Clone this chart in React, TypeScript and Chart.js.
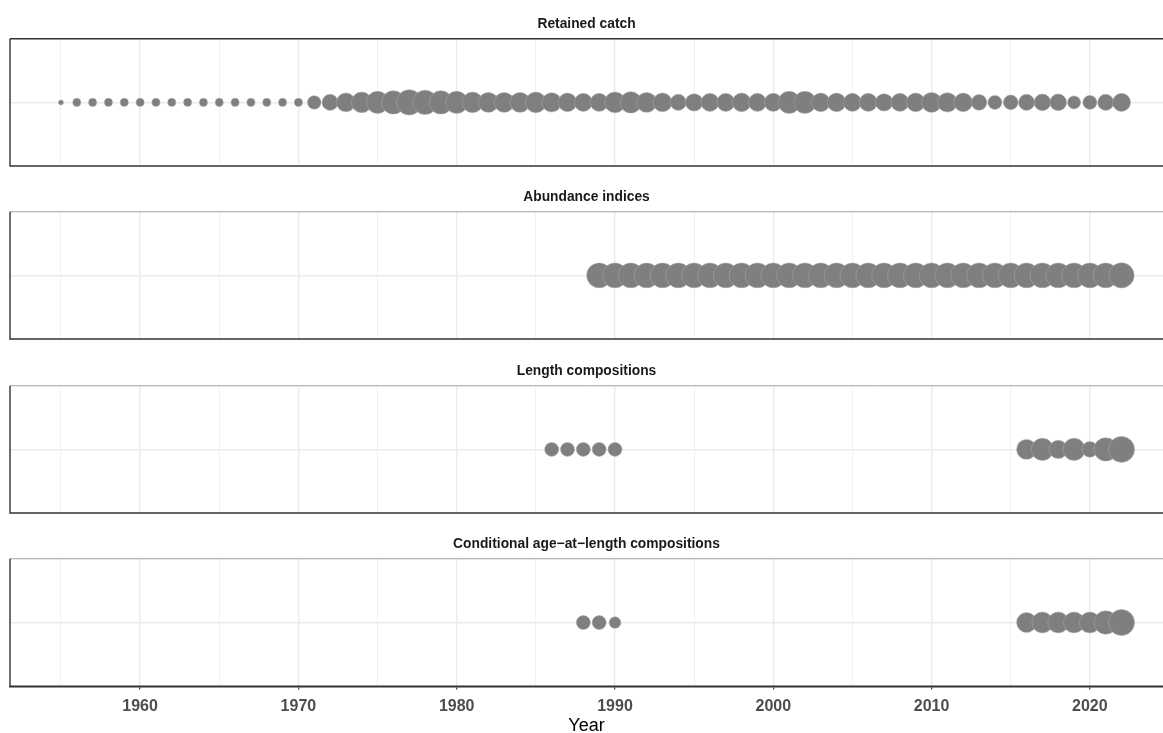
import React, { useEffect, useRef } from "react";
import { Chart, registerables } from "chart.js";

Chart.register(...registerables);

// ---------- data ----------
const panelTitles = [
  "Retained catch",
  "Abundance indices",
  "Length compositions",
  "Conditional age\u2212at\u2212length compositions",
];

const catchYears = [
  1955, 1956, 1957, 1958, 1959, 1960, 1961, 1962, 1963, 1964, 1965, 1966, 1967, 1968, 1969, 1970,
  1971, 1972, 1973, 1974, 1975, 1976, 1977, 1978, 1979, 1980, 1981, 1982, 1983, 1984, 1985, 1986,
  1987, 1988, 1989, 1990, 1991, 1992, 1993, 1994, 1995, 1996, 1997, 1998, 1999, 2000, 2001, 2002,
  2003, 2004, 2005, 2006, 2007, 2008, 2009, 2010, 2011, 2012, 2013, 2014, 2015, 2016, 2017, 2018,
  2019, 2020, 2021, 2022,
];
const catchValues = [
  0.037, 0.095, 0.095, 0.095, 0.095, 0.095, 0.095, 0.095, 0.095, 0.095, 0.095, 0.095, 0.095, 0.095, 0.095, 0.095,
  0.27, 0.38, 0.53, 0.63, 0.72, 0.81, 0.95, 0.88, 0.81, 0.72, 0.63, 0.59, 0.59, 0.59, 0.63, 0.56,
  0.51, 0.48, 0.48, 0.65, 0.68, 0.59, 0.53, 0.38, 0.45, 0.48, 0.48, 0.51, 0.48, 0.48, 0.72, 0.72,
  0.51, 0.51, 0.48, 0.48, 0.45, 0.48, 0.51, 0.59, 0.56, 0.51, 0.36, 0.29, 0.32, 0.38, 0.41, 0.41,
  0.25, 0.29, 0.38, 0.48,
];

const abundanceYears = [
  1989, 1990, 1991, 1992, 1993, 1994, 1995, 1996, 1997, 1998, 1999, 2000, 2001, 2002, 2003, 2004,
  2005, 2006, 2007, 2008, 2009, 2010, 2011, 2012, 2013, 2014, 2015, 2016, 2017, 2018, 2019, 2020,
  2021, 2022,
];
const abundanceValues = [
  0.92, 0.92, 0.92, 0.92, 0.92, 0.92, 0.92, 0.92, 0.92, 0.92, 0.92, 0.92, 0.92, 0.92, 0.92, 0.92,
  0.92, 0.92, 0.92, 0.92, 0.92, 0.92, 0.92, 0.92, 0.92, 0.92, 0.92, 0.92, 0.92, 0.92, 0.92, 0.92,
  0.92, 0.94,
];

const lengthYears = [1986, 1987, 1988, 1989, 1990, 2016, 2017, 2018, 2019, 2020, 2021, 2022];
const lengthValues = [0.29, 0.29, 0.29, 0.29, 0.29, 0.59, 0.72, 0.5, 0.72, 0.36, 0.81, 1.0];

const ageYears = [1988, 1989, 1990, 2016, 2017, 2018, 2019, 2020, 2021, 2022];
const ageValues = [0.29, 0.29, 0.2, 0.59, 0.65, 0.65, 0.65, 0.65, 0.81, 1.0];

const gridYears = [1955, 1960, 1965, 1970, 1975, 1980, 1985, 1990, 1995, 2000, 2005, 2010, 2015, 2020];

const xAxisTitle = "Year";

// ---------- layout / style ----------
const X_MIN = 1951.78;
const X_MAX = 2024.62;
const R_MAX = 13;
const W = 1163;
const H = 733;
const PANEL_STEP = 173.33;
const FONT = "'Liberation Sans', Arial, Helvetica, sans-serif";

const panels = [
  { title: panelTitles[0], years: catchYears, values: catchValues },
  { title: panelTitles[1], years: abundanceYears, values: abundanceValues },
  { title: panelTitles[2], years: lengthYears, values: lengthValues },
  { title: panelTitles[3], years: ageYears, values: ageValues },
];

function Panel({ idx, title, years, values, last }: any) {
  const ref = useRef<HTMLCanvasElement | null>(null);
  const top = Math.round(idx * PANEL_STEP);
  const height = last ? H - top + 2 : 168;

  useEffect(() => {
    if (!ref.current) return;
    const borderPlugin = {
      id: "panelBorder",
      afterDatasetsDraw(chart: any) {
        const { ctx, chartArea: a } = chart;
        ctx.save();
        ctx.lineCap = "butt";
        ctx.strokeStyle = idx === 0 ? "#333333" : "#a0a0a0";
        ctx.lineWidth = idx === 0 ? 1.4 : 1;
        ctx.beginPath();
        ctx.moveTo(a.left, a.top);
        ctx.lineTo(a.right, a.top);
        ctx.stroke();
        ctx.strokeStyle = "#333333";
        ctx.lineWidth = 1.4;
        ctx.beginPath();
        ctx.moveTo(a.left, a.top);
        ctx.lineTo(a.left, a.bottom);
        ctx.lineTo(a.right, a.bottom);
        ctx.stroke();
        ctx.restore();
      },
    };

    const chart = new Chart(ref.current, {
      type: "bubble",
      data: {
        datasets: [
          {
            data: years.map((y: number, i: number) => ({ x: y, y: 0, r: R_MAX * Math.sqrt(values[i]) })),
            backgroundColor: "#7f7f7f",
            borderColor: "rgba(170,170,170,0.85)",
            borderWidth: 0.6,
          },
        ],
      },
      options: {
        animation: false,
        responsive: false,
        events: [],
        layout: { autoPadding: false, padding: { left: 10, right: 0, top: 0, bottom: last ? 0 : 2 } },
        plugins: {
          legend: { display: false },
          tooltip: { enabled: false },
          title: {
            display: true,
            text: title,
            color: "#1a1a1a",
            font: { family: FONT, size: 13.8, weight: "bold", lineHeight: 1.2 },
            padding: { top: 15.7, bottom: 6.5 },
          },
        },
        scales: {
          x: {
            type: "linear",
            min: X_MIN,
            max: X_MAX,
            afterBuildTicks: (s: any) => {
              s.ticks = gridYears.map((v) => ({ value: v }));
            },
            grid: {
              color: "#ebebeb",
              lineWidth: (c: any) => (c.tick && c.tick.value % 10 === 0 ? 1.4 : 0.7),
              drawTicks: !!last,
              tickLength: 3.3,
              tickColor: (c: any) => (c.tick && c.tick.value % 10 === 0 ? "#333333" : "rgba(0,0,0,0)"),
              tickWidth: 1.2,
            },
            border: { display: !!last, color: "#333333", width: 1.4 },
            ticks: {
              display: !!last,
              autoSkip: false,
              maxRotation: 0,
              padding: 8.7,
              color: "#4d4d4d",
              font: { family: FONT, size: 16, weight: "bold", lineHeight: 1.0 },
              callback: (v: any) => (Number(v) % 10 === 0 ? String(v) : ""),
            },
            title: {
              display: !!last,
              text: xAxisTitle,
              color: "#000000",
              font: { family: FONT, size: 18, lineHeight: 1.0 },
              padding: { top: -6, bottom: 0 },
            },
          },
          y: {
            min: -1,
            max: 1,
            afterBuildTicks: (s: any) => {
              s.ticks = [{ value: 0 }];
            },
            grid: { color: "#ebebeb", lineWidth: 1.4, drawTicks: false },
            border: { display: false },
            ticks: { display: false },
          },
        },
      },
      plugins: [borderPlugin],
    } as any);
    return () => chart.destroy();
  }, []);

  return (
    <div style={{ position: "absolute", left: 0, top, width: W, height }}>
      <canvas ref={ref} width={W} height={height} style={{ width: W, height, display: "block" }} />
    </div>
  );
}

export default function App() {
  return (
    <div style={{ position: "absolute", left: 0, top: 0, width: W, height: H, background: "#ffffff", overflow: "hidden" }}>
      {panels.map((p, i) => (
        <Panel key={i} idx={i} title={p.title} years={p.years} values={p.values} last={i === panels.length - 1} />
      ))}
    </div>
  );
}
